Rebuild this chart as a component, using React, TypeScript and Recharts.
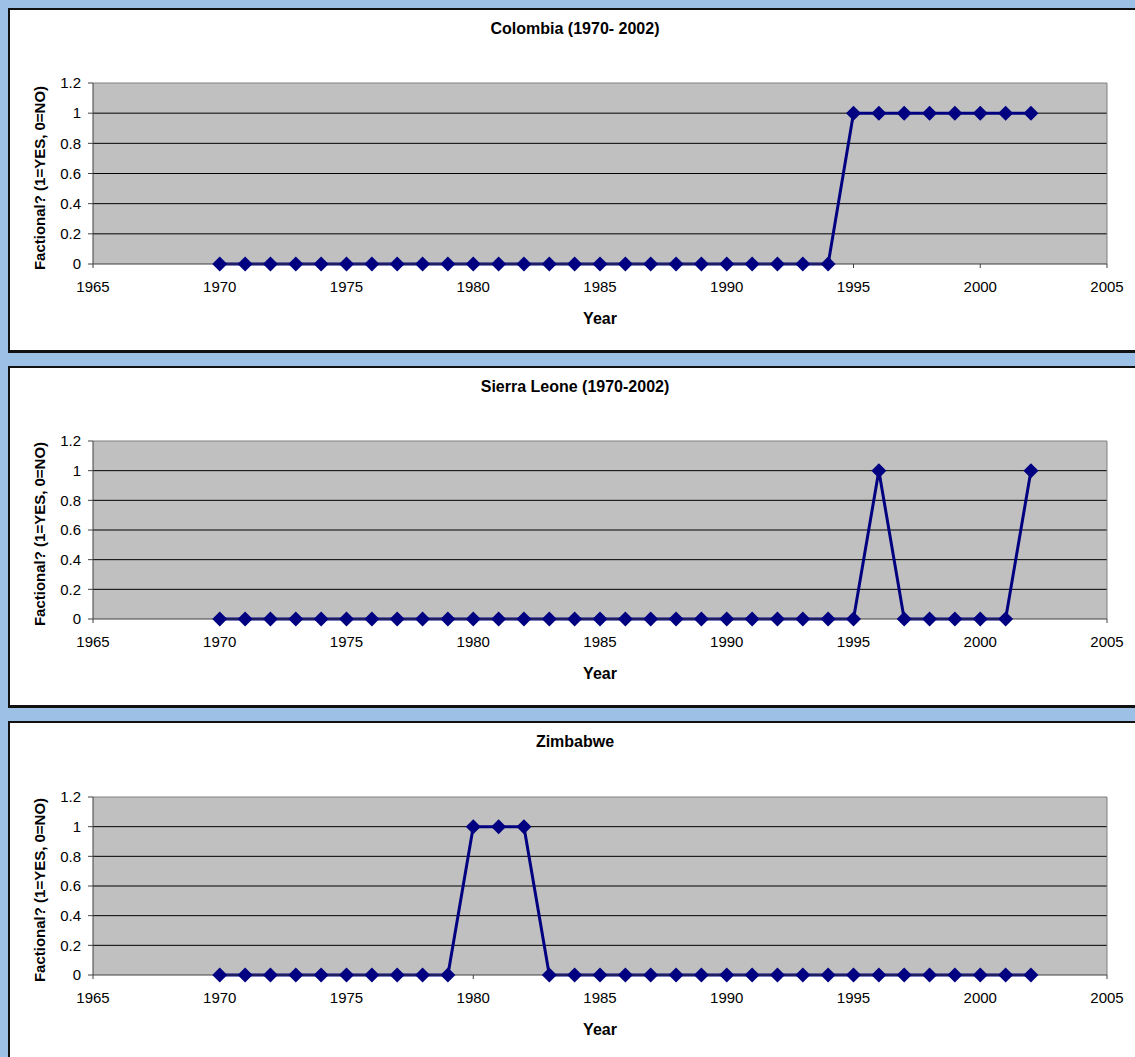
import React from 'react';
import { LineChart, Line, XAxis, YAxis, CartesianGrid, ReferenceLine } from 'recharts';

// Years covered by every country series
const years = [
  1970, 1971, 1972, 1973, 1974, 1975, 1976, 1977, 1978, 1979, 1980,
  1981, 1982, 1983, 1984, 1985, 1986, 1987, 1988, 1989, 1990, 1991,
  1992, 1993, 1994, 1995, 1996, 1997, 1998, 1999, 2000, 2001, 2002,
];

// 1 = factional, 0 = not factional
const colombia = [
  0, 0, 0, 0, 0, 0, 0, 0, 0, 0, 0,
  0, 0, 0, 0, 0, 0, 0, 0, 0, 0, 0,
  0, 0, 0, 1, 1, 1, 1, 1, 1, 1, 1,
];
const sierraLeone = [
  0, 0, 0, 0, 0, 0, 0, 0, 0, 0, 0,
  0, 0, 0, 0, 0, 0, 0, 0, 0, 0, 0,
  0, 0, 0, 0, 1, 0, 0, 0, 0, 0, 1,
];
const zimbabwe = [
  0, 0, 0, 0, 0, 0, 0, 0, 0, 0, 1,
  1, 1, 0, 0, 0, 0, 0, 0, 0, 0, 0,
  0, 0, 0, 0, 0, 0, 0, 0, 0, 0, 0,
];

const xTicks = [1965, 1970, 1975, 1980, 1985, 1990, 1995, 2000, 2005];
const yTicks = [0, 0.2, 0.4, 0.6, 0.8, 1, 1.2];
const gridValues = [0.2, 0.4, 0.6, 0.8, 1];

const FONT = "'Liberation Sans', Arial, Helvetica, sans-serif";
const NAVY = '#000080';

const Diamond = (props: any) => {
  const { cx, cy, index } = props;
  if (cx == null || cy == null) return null;
  const r = 7.5;
  return (
    <path
      key={`d-${index}`}
      d={`M${cx},${cy - r}L${cx + r},${cy}L${cx},${cy + r}L${cx - r},${cy}Z`}
      fill={NAVY}
    />
  );
};

type PanelProps = {
  title: string;
  values: number[];
  top: number;
  height: number;
  plotTop: number;
  plotHeight: number;
};

const Panel: React.FC<PanelProps> = ({ title, values, top, height, plotTop, plotHeight }) => {
  const data = years.map((year, i) => ({ year, value: values[i] }));
  const xAxisHeight = 30;
  const marginTop = plotTop - top;
  const marginBottom = height - marginTop - plotHeight - xAxisHeight;
  const plotBottom = plotTop + plotHeight;

  return (
    <>
      <div
        style={{
          position: 'absolute',
          left: 8,
          top,
          width: 1136,
          height,
          boxSizing: 'border-box',
          border: '2px solid #111',
          borderBottomWidth: 3,
          background: '#fff',
        }}
      />
      <div
        style={{
          position: 'absolute',
          left: 375,
          width: 400,
          top: top + 12,
          textAlign: 'center',
          fontWeight: 'bold',
          fontSize: 16,
          lineHeight: '18px',
          color: '#000',
        }}
      >
        {title}
      </div>
      <div
        style={{
          position: 'absolute',
          left: 40 - 150,
          width: 300,
          top: plotTop + plotHeight / 2 + 4 - 8,
          textAlign: 'center',
          fontWeight: 'bold',
          fontSize: 15,
          lineHeight: '16px',
          transform: 'rotate(-90deg)',
          color: '#000',
        }}
      >
        Factional? (1=YES, 0=NO)
      </div>
      <div
        style={{
          position: 'absolute',
          left: 500,
          width: 200,
          top: plotBottom + 55 - 9,
          textAlign: 'center',
          fontWeight: 'bold',
          fontSize: 16,
          lineHeight: '18px',
          color: '#000',
        }}
      >
        Year
      </div>
      <div style={{ position: 'absolute', left: 0, top }}>
        <LineChart
          width={1135}
          height={height}
          data={data}
          margin={{ top: marginTop, right: 28, bottom: marginBottom, left: 0 }}
        >
          <CartesianGrid
            vertical={false}
            horizontalValues={gridValues}
            stroke="#000"
            fill="#c0c0c0"
            fillOpacity={1}
          />
          <ReferenceLine y={1.2} stroke="#808080" />
          <ReferenceLine x={2005} stroke="#808080" />
          <XAxis
            type="number"
            dataKey="year"
            domain={[1965, 2005]}
            ticks={xTicks}
            interval={0}
            height={xAxisHeight}
            stroke="#404040"
            tickSize={4}
            tickMargin={13}
            tick={{ fill: '#000', fontSize: 15, fontFamily: FONT }}
          />
          <YAxis
            type="number"
            domain={[0, 1.2]}
            ticks={yTicks}
            interval={0}
            width={93}
            stroke="#404040"
            tickSize={5}
            tickMargin={7}
            tick={{ fill: '#000', fontSize: 15, fontFamily: FONT }}
          />
          <Line
            type="linear"
            dataKey="value"
            stroke={NAVY}
            strokeWidth={3}
            dot={Diamond}
            activeDot={false}
            isAnimationActive={false}
          />
        </LineChart>
      </div>
    </>
  );
};

export default function App() {
  return (
    <div
      style={{
        position: 'fixed',
        left: 0,
        top: 0,
        width: 1135,
        height: 1057,
        overflow: 'hidden',
        background: '#9dc0e6',
        fontFamily: FONT,
      }}
    >
      <Panel title="Colombia (1970- 2002)" values={colombia} top={8} height={345} plotTop={83} plotHeight={181} />
      <Panel title="Sierra Leone (1970-2002)" values={sierraLeone} top={366} height={342} plotTop={441} plotHeight={178} />
      <Panel title="Zimbabwe" values={zimbabwe} top={721} height={345} plotTop={797} plotHeight={178} />
    </div>
  );
}
